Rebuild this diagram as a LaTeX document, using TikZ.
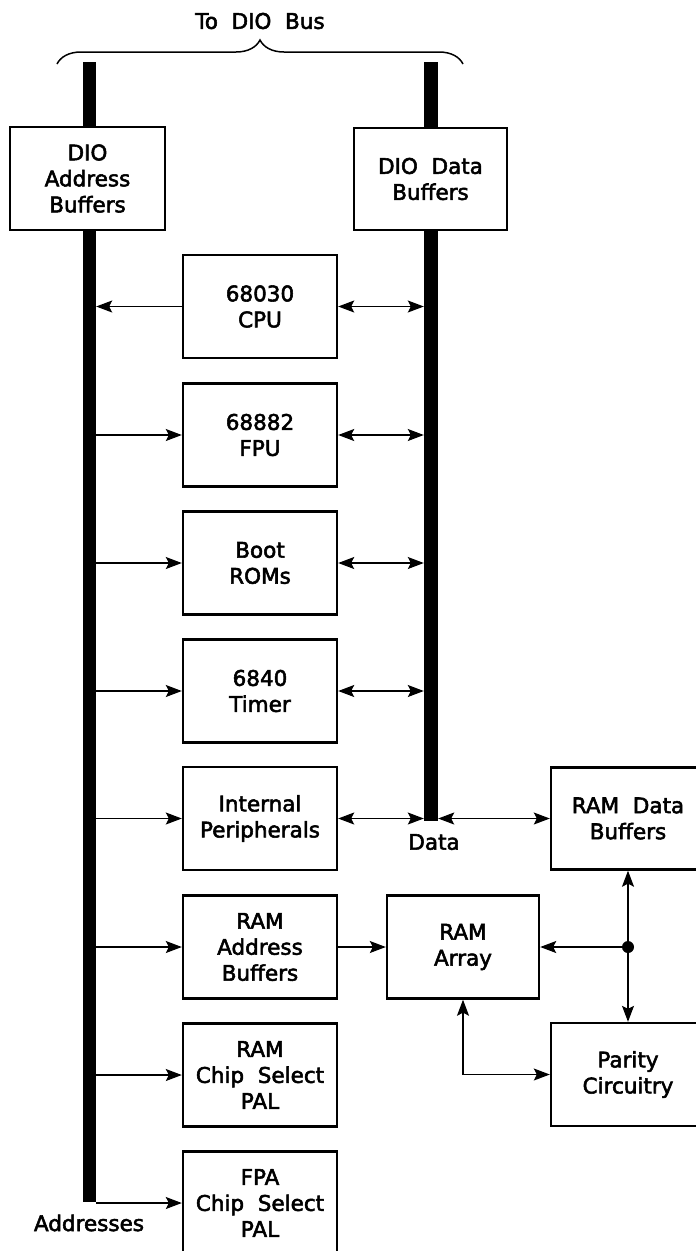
\documentclass[tikz,border=0pt]{standalone}
\usepackage{fontspec}
\setmainfont{DejaVu Sans}[FakeBold=2.5]
\usetikzlibrary{arrows.meta,decorations.pathreplacing}
\begin{document}
\begin{tikzpicture}[x=1pt,y=-1pt,
  txt/.style={font=\fontsize{21.5}{26}\selectfont},
  blk/.style={txt,draw,line width=2.4pt,fill=white,minimum width=154pt,minimum height=103pt,inner sep=0pt,align=center},
  bus/.style={fill=black,inner sep=0pt,minimum width=13pt},
  con/.style={line width=1.2pt},
  >={Stealth[length=16pt,width=12pt,inset=3pt]}
]
\clip (0,0) rectangle (696,1251);
\fill[white] (0,0) rectangle (696,1251);

% brace and title
\coordinate (bl) at (57,64);
\coordinate (br) at (463,64);
\draw[line width=1.5pt,decorate,decoration={brace,amplitude=24pt}] (bl) -- (br);
\node[txt] (title) at (260,21) {To\ \ DIO\ \ Bus};

% buses
\node[bus,minimum height=1140pt] (abus) at (89.5,632) {};
\node[bus,minimum height=759pt,minimum width=14pt] (dbus) at (431,441.5) {};

% DIO buffers
\node[blk,minimum width=155pt] (dioa) at (87.5,178.5) {DIO\\Address\\Buffers};
\node[blk,minimum width=153pt,minimum height=102pt] (diod) at (430.5,179) {DIO\ \ Data\\Buffers};

% middle column
\node[blk] (cpu)   at (260,306.5) {68030\\CPU};
\node[blk] (fpu)   at (260,435)   {68882\\FPU};
\node[blk] (boot)  at (260,563)   {Boot\\ROMs};
\node[blk] (timer) at (260,691)   {6840\\Timer};
\node[blk] (ip)    at (260,818.5) {Internal\\Peripherals};
\node[blk] (raddr) at (260,947)   {RAM\\Address\\Buffers};
\node[blk] (rcs)   at (260,1075)  {RAM\\Chip\ \ Select\\PAL};
\node[blk] (fcs)   at (260,1203)  {FPA\\Chip\ \ Select\\PAL};

% right side
\node[blk,minimum width=152pt] (rarr) at (463,947) {RAM\\Array};
\node[blk,minimum height=102pt] (rdb) at (628,818.5) {RAM\ \ Data\\Buffers};
\node[blk] (par) at (628,1074.5) {Parity\\Circuitry};

% labels
\node[txt] (dlbl) at (434,842) {Data};
\node[txt] (albl) at (89,1223) {Addresses};

% address connectors
\draw[con,->] (cpu.west) -- (cpu.west -| abus.east);
\foreach \n in {fpu,boot,timer,ip,raddr,rcs,fcs}
  \draw[con,->] (\n.west -| abus.east) -- (\n.west);

% data connectors
\foreach \n in {cpu,fpu,boot,timer,ip}
  \draw[con,<->] (\n.east) -- (\n.east -| dbus.west);
\draw[con,<->] (ip.east -| dbus.east) -- (rdb.west);

% RAM connections
\draw[con,->] (raddr.east) -- (rarr.west);
\coordinate (j) at (628,947);
\draw[con,<->] (rdb.south) -- (par.north);
\draw[con,->] (j) -- (rarr.east);
\fill (j) circle (6pt);
\coordinate (corner) at (rarr.south |- par.west);
\draw[con,<->] (rarr.south) -- (corner) -- (par.west);
\end{tikzpicture}
\end{document}
